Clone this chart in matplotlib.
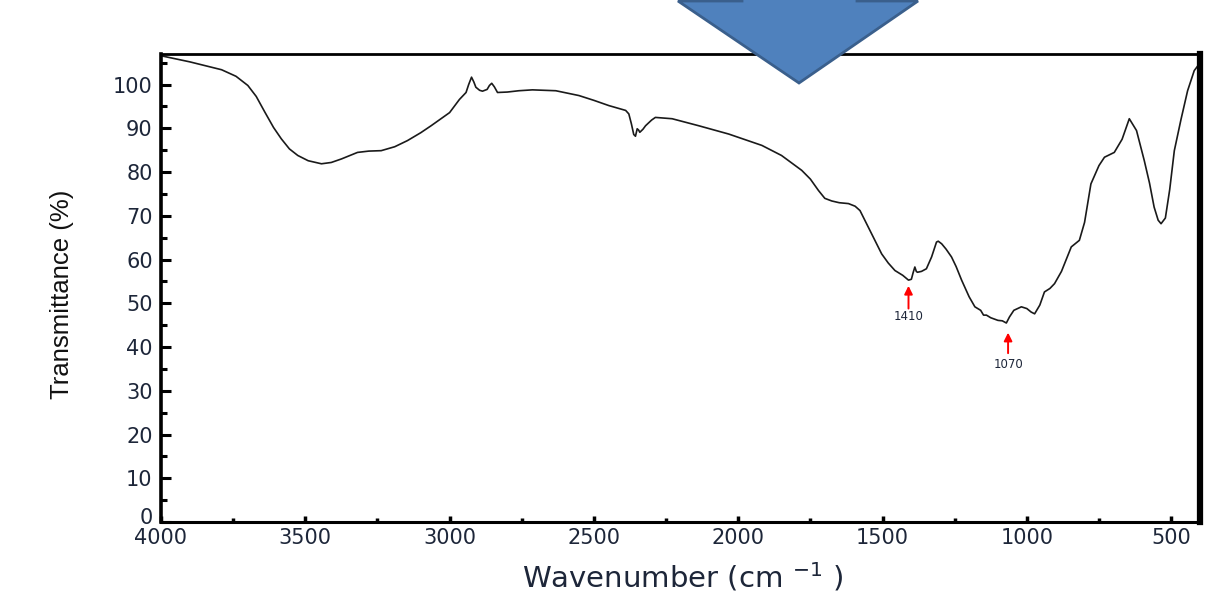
"""
FTIR spectrum: transmittance vs wavenumber
"""
import matplotlib
matplotlib.use("Agg")
import matplotlib.pyplot as plt
from matplotlib.patches import Polygon
from matplotlib.transforms import ScaledTranslation

plt.rcParams['font.family'] = ['DejaVu Sans']
plt.rcParams['mathtext.fontset'] = 'dejavusans'

# values
wavenumber = [4000, 3900, 3790, 3740, 3699, 3670, 3640, 3610, 3583, 3555, 3526,
              3490, 3444, 3410, 3375, 3319, 3280, 3237, 3190, 3146, 3100, 3064,
              3036, 3000, 2966, 2943, 2934, 2924, 2916, 2909, 2896, 2886, 2870,
              2862, 2854, 2845, 2834, 2800, 2760, 2713, 2632, 2552, 2500, 2448,
              2390, 2379, 2370, 2362, 2356, 2350, 2345, 2341, 2330, 2321, 2300,
              2287, 2229, 2137, 2033, 1918, 1850, 1780, 1750, 1722, 1700, 1676,
              1650, 1618, 1595, 1578, 1538, 1503, 1480, 1457, 1430, 1410, 1400,
              1394, 1388, 1383, 1379, 1365, 1348, 1330, 1313, 1307, 1295, 1280,
              1261, 1245, 1226, 1200, 1180, 1160, 1150, 1140, 1125, 1100, 1085,
              1071, 1060, 1045, 1019, 1000, 985, 973, 955, 939, 920, 904, 880,
              846, 818, 800, 778, 750, 731, 697, 670, 645, 620, 593, 575, 559,
              545, 535, 520, 505, 489, 466, 443, 420, 403]
transmittance = [106.6, 105.2, 103.4, 101.9, 99.8, 97.3, 93.7, 90.2, 87.6, 85.3,
                 83.8, 82.6, 81.9, 82.2, 83.0, 84.5, 84.8, 84.9, 85.8, 87.2, 89.0,
                 90.6, 91.9, 93.6, 96.6, 98.2, 100.0, 101.7, 100.6, 99.4, 98.7,
                 98.5, 98.9, 99.8, 100.3, 99.5, 98.2, 98.3, 98.6, 98.8, 98.6, 97.5,
                 96.4, 95.2, 94.1, 93.3, 91.0, 88.6, 88.2, 89.9, 89.6, 89.1, 89.8,
                 90.6, 91.9, 92.5, 92.2, 90.6, 88.7, 86.1, 83.8, 80.4, 78.4, 75.8,
                 74.0, 73.4, 73.0, 72.8, 72.2, 71.2, 65.9, 61.3, 59.2, 57.5, 56.4,
                 55.3, 55.5, 57.0, 58.3, 57.3, 57.1, 57.3, 57.9, 60.6, 64.0, 64.2,
                 63.6, 62.4, 60.6, 58.4, 55.3, 51.5, 49.2, 48.4, 47.3, 47.3, 46.7,
                 46.1, 46.0, 45.5, 46.9, 48.4, 49.2, 48.8, 48.0, 47.6, 49.6, 52.6,
                 53.4, 54.5, 57.3, 62.9, 64.4, 68.5, 77.3, 81.5, 83.4, 84.5, 87.5,
                 92.2, 89.5, 82.6, 77.5, 72.0, 69.0, 68.2, 69.5, 76.0, 84.9, 92.0,
                 98.6, 103.2, 104.7]

peak_positions = [1410, 1065]
peak_labels = ["1410", "1070"]
arrow_heads = [54.0, 43.3]
arrow_tails = [48.8, 38.6]
label_heights = [47.0, 35.9]

tick_color = '#1d2639'

fig = plt.figure(figsize=(12.26, 5.92), dpi=100)
ax = fig.add_axes([0.1313, 0.1182, 0.8475, 0.7906])

ax.plot(wavenumber, transmittance, color='#1a1a1a', lw=1.2)

ax.set_xlim(4000, 400)
ax.set_ylim(0, 107)
ax.set_xticks([4000, 3500, 3000, 2500, 2000, 1500, 1000, 500])
ax.set_xticks(range(3750, 400, -500), minor=True)
ax.set_yticks(range(0, 101, 10))
ax.set_yticks(range(5, 106, 10), minor=True)

ax.tick_params(axis='both', which='both', direction='in', colors='black',
               labelcolor=tick_color, labelsize=15)
ax.tick_params(axis='y', which='major', length=7.5, width=2.2, pad=6)
ax.tick_params(axis='y', which='minor', length=4, width=2.2)
ax.tick_params(axis='x', which='major', length=4, width=2.5, pad=4)
ax.tick_params(axis='x', which='minor', length=3, width=2.5)

# the "0" sits just above the "4000", nudge it up a little
zero_label = ax.get_yticklabels()[0]
zero_label.set_transform(zero_label.get_transform()
                         + ScaledTranslation(0, 4 / 72, fig.dpi_scale_trans))

ax.spines['left'].set_linewidth(2.6)
ax.spines['bottom'].set_linewidth(2.2)
ax.spines['top'].set_linewidth(2.0)
ax.spines['right'].set_linewidth(4.5)

fig.text(62 / 1226, 1 - 294 / 592, 'Transmittance (%)', rotation=90,
         ha='center', va='center', fontsize=18.5, color='#111111',
         family=['Liberation Sans', 'DejaVu Sans'])
fig.text(683 / 1226, 1 - 577 / 592, r'Wavenumber (cm $^{-1}$ )',
         ha='center', va='center', fontsize=21, color=tick_color)

for pos, lab, head, tail, ty in zip(peak_positions, peak_labels, arrow_heads,
                                    arrow_tails, label_heights):
    ax.annotate('', xy=(pos, head), xytext=(pos, tail),
                arrowprops=dict(arrowstyle='-|>', color='red', lw=1.4,
                                mutation_scale=12, shrinkA=0, shrinkB=0))
    ax.text(pos, ty, lab, ha='center', va='center', fontsize=8.5,
            color=tick_color)

# blue block arrow drawn over the top of the chart
W, H = 1226.0, 592.0
arrow_px = [(742, -10), (742, 1), (678, 1), (799, 83), (918, 1), (857, 1),
            (857, -10)]
arrow_fig = [(x / W, 1 - y / H) for x, y in arrow_px]
fig.patches.append(Polygon(arrow_fig, closed=True, transform=fig.transFigure,
                           facecolor='#4f81bd', edgecolor='#3a5f8c', lw=2,
                           zorder=10))

plt.savefig('out.png', dpi=100)
